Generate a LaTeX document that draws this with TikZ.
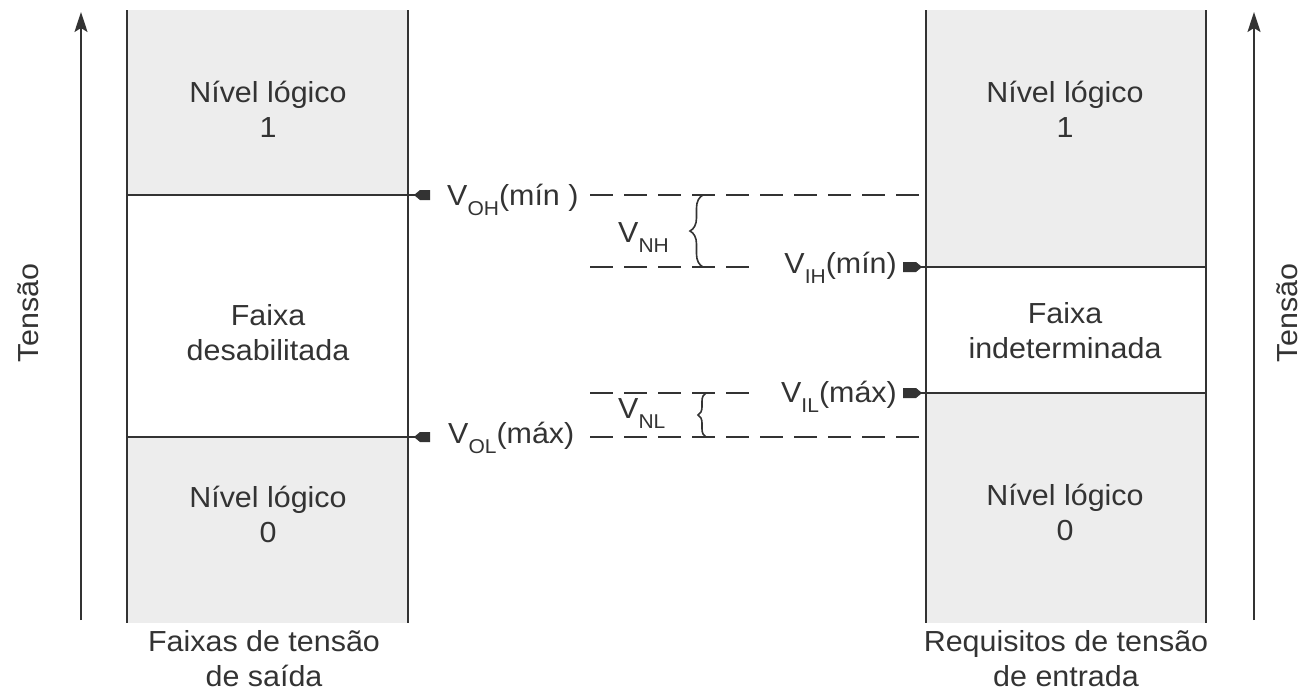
\documentclass[tikz,border=0pt]{standalone}
\usepackage{fontspec}
\setmainfont{Liberation Sans}[FakeStretch=1.05]
\usetikzlibrary{arrows.meta,decorations.pathreplacing}
\definecolor{ink}{HTML}{333333}
\definecolor{band}{HTML}{EDEDED}
% lowered, smaller subscript for voltage names
\newcommand{\lsub}[1]{\raisebox{-10pt}{\fontsize{20}{20}\selectfont #1}}

\begin{document}
\begin{tikzpicture}[x=1pt,y=-1pt,
  lbl/.style={text=ink, font=\fontsize{29}{35}\selectfont, align=center, inner sep=0pt},
  edge/.style={draw=ink, line width=1.8pt},
  axis/.style={draw=ink, line width=1.8pt, -{Stealth[length=20pt,width=13pt,inset=4pt]}},
  levelline/.style={draw=ink, line width=1.6pt, dash pattern=on 23pt off 11pt},
  bracemark/.style={draw=ink, line width=1.6pt, decorate},
  tag/.style={fill=ink}]
\useasboundingbox (0,0) rectangle (1301,691);

% ---------- output side ----------
\coordinate (Ltl) at (127,10);  \coordinate (Ltr) at (408,10);
\coordinate (Lbl) at (127,623); \coordinate (Lbr) at (408,623);
\coordinate (LH) at (127,195);  \coordinate (LHr) at (418,195);
\coordinate (LL) at (127,437);  \coordinate (LLr) at (418,437);
\fill[band] (Ltl) rectangle (408,195);
\fill[band] (LL) rectangle (Lbr);
\draw[edge] (Ltl) -- (Lbl);
\draw[edge] (Ltr) -- (Lbr);
\draw[edge] (LH) -- (LHr);
\draw[edge] (LL) -- (LLr);
% pointer tags
\fill[tag] (414,195) -- (420,190) -- (430,190) -- (430,200) -- (420,200) -- cycle;
\fill[tag] (414,437) -- (420,432) -- (430,432) -- (430,442) -- (420,442) -- cycle;

% multi-line labels are anchored at the baseline of their last line
\node[lbl, anchor=base] (out1) at (268,137) {Nível lógico\\1};
\node[lbl, anchor=base] (outmid) at (268,360) {Faixa\\desabilitada};
\node[lbl, anchor=base] (out0) at (268,542) {Nível lógico\\0};
\node[lbl, anchor=base] (outcap) at (264,686) {Faixas de tensão\\de saída};

% ---------- input side ----------
\coordinate (Rtl) at (926,10);  \coordinate (Rtr) at (1206,10);
\coordinate (Rbl) at (926,623); \coordinate (Rbr) at (1206,623);
\coordinate (RH) at (1206,267); \coordinate (RHl) at (919,267);
\coordinate (RL) at (1206,393); \coordinate (RLl) at (919,393);
\fill[band] (Rtl) rectangle (RH);
\fill[band] (926,393) rectangle (Rbr);
\draw[edge] (Rtl) -- (Rbl);
\draw[edge] (Rtr) -- (Rbr);
\draw[edge] (RHl) -- (RH);
\draw[edge] (RLl) -- (RL);
\fill[tag] (922,267) -- (916,262) -- (903,262) -- (903,272) -- (916,272) -- cycle;
\fill[tag] (922,393) -- (916,388) -- (903,388) -- (903,398) -- (916,398) -- cycle;

\node[lbl, anchor=base] (in1) at (1065,137) {Nível lógico\\1};
\node[lbl, anchor=base] (inmid) at (1065,358) {Faixa\\indeterminada};
\node[lbl, anchor=base] (in0) at (1065,540) {Nível lógico\\0};
\node[lbl, anchor=base] (incap) at (1066,686) {Requisitos de tensão\\de entrada};

% ---------- voltage axes ----------
\coordinate (A1b) at (81,620);   \coordinate (A1t) at (81,12);
\coordinate (A2b) at (1254,620); \coordinate (A2t) at (1254,12);
\draw[axis] (A1b) -- (A1t);
\draw[axis] (A2b) -- (A2t);
\node[lbl, rotate=90] (tl) at (28,313) {Tensão};
\node[lbl, rotate=90] (tr) at (1287,313) {Tensão};

% ---------- threshold levels ----------
\node[lbl, anchor=base west] (voh) at (447,205) {V\lsub{OH}(mín )};
\node[lbl, anchor=base west] (vol) at (448,443) {V\lsub{OL}(máx)};
\node[lbl, anchor=base east] (vih) at (897,273) {V\lsub{IH}(mín)};
\node[lbl, anchor=base east] (vil) at (897,402) {V\lsub{IL}(máx)};
\node[lbl, anchor=base west] (vnh) at (618,242) {V\lsub{NH}};
\node[lbl, anchor=base west] (vnl) at (618,418) {V\lsub{NL}};

\coordinate (d1a) at (590,195); \coordinate (d1b) at (923,195);
\coordinate (d2a) at (590,267); \coordinate (d2b) at (752,267);
\coordinate (d3a) at (590,393); \coordinate (d3b) at (752,393);
\coordinate (d4a) at (590,437); \coordinate (d4b) at (923,437);
\draw[levelline] (d1a) -- (d1b);
\draw[levelline] (d2a) -- (d2b);
\draw[levelline] (d3a) -- (d3b);
\draw[levelline] (d4a) -- (d4b);

% noise margins
\coordinate (bh1) at (703,267); \coordinate (bh2) at (703,195);
\coordinate (bl1) at (706,437); \coordinate (bl2) at (706,393);
\draw[bracemark, decoration={brace, amplitude=13pt}] (bh1) -- (bh2);
\draw[bracemark, decoration={brace, amplitude=8pt}] (bl1) -- (bl2);
\end{tikzpicture}
\end{document}
